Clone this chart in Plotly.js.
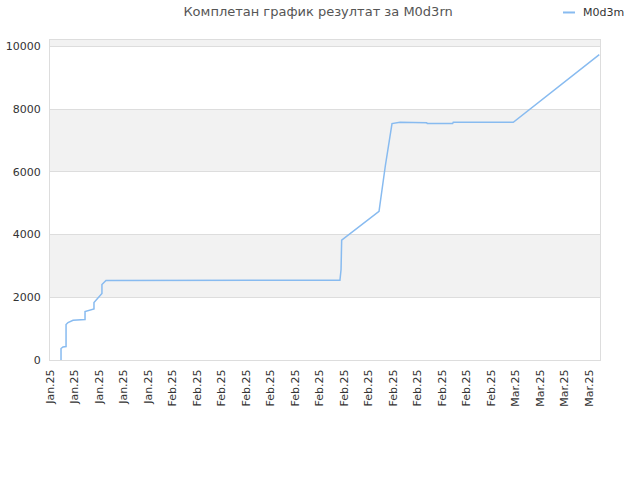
<!DOCTYPE html>
<html>
<head>
<meta charset="utf-8">
<script src="https://cdn.plot.ly/plotly-3.0.1.min.js"></script>
<style>
  html, body { margin: 0; padding: 0; background: #fff; }
  #chart { width: 640px; height: 480px; }
</style>
</head>
<body>
<div id="chart"></div>
<script>
// day offsets (2 days per tick) and cumulative score
const resultDays = [0.90, 0.90, 1.06, 1.31, 1.31, 1.47, 1.88, 2.86, 2.86, 3.35, 3.59, 3.59,
  3.92, 4.24, 4.24, 4.57, 23.67, 23.76, 23.81, 26.86, 27.37, 27.92, 28.57, 30.75, 30.80,
  32.87, 32.92, 37.82, 44.84];
const resultScores = [0, 367, 415, 431, 1132, 1196, 1270, 1292, 1547, 1595, 1627, 1834,
  1994, 2121, 2408, 2536, 2545, 2887, 3821, 4746, 6182, 7544, 7585, 7570, 7545,
  7545, 7585, 7585, 9745];

const tickDays = [0, 2, 4, 6, 8, 10, 12, 14, 16, 18, 20, 22, 24, 26, 28, 30, 32, 34, 36, 38, 40, 42, 44];
const tickLabels = [
  "Jan.25", "Jan.25", "Jan.25", "Jan.25", "Jan.25",
  "Feb.25", "Feb.25", "Feb.25", "Feb.25", "Feb.25", "Feb.25", "Feb.25",
  "Feb.25", "Feb.25", "Feb.25", "Feb.25", "Feb.25", "Feb.25", "Feb.25",
  "Mar.25", "Mar.25", "Mar.25", "Mar.25"
];
const yTicks = [0, 2000, 4000, 6000, 8000, 10000];
const yLabels = ["0", "2000", "4000", "6000", "8000", "10000"];
const playerName = "M0d3m";

const FONT = "DejaVu Sans, Verdana, sans-serif";
const LINE = "#88bbf0";
const band = (y0, y1) => ({
  type: "rect", xref: "paper", yref: "y", x0: 0, x1: 1, y0: y0, y1: y1,
  fillcolor: "#f2f2f2", line: { width: 0 }, layer: "below",
});

Plotly.newPlot("chart", [{
  type: "scatter", mode: "lines", name: playerName,
  x: resultDays, y: resultScores,
  line: { color: LINE, width: 1.5 },
  hovertemplate: "%{y:,.0f}<extra></extra>",
}], {
  width: 640, height: 480,
  paper_bgcolor: "#fff", plot_bgcolor: "#fff",
  margin: { l: 50, r: 40, t: 40, b: 120, autoexpand: false },
  font: { family: FONT, size: 11, color: "#333" },
  title: {
    text: "Комплетан график резултат за M0d3rn",
    x: 0.497, xanchor: "center", y: 0.985, yanchor: "top",
    font: { family: FONT, size: 13, color: "#555" },
  },
  showlegend: false,
  xaxis: {
    range: [0, 44.9], tickvals: tickDays, ticktext: tickLabels,
    tickangle: -90, showgrid: false, zeroline: false,
    ticks: "outside", ticklen: 4, tickcolor: "rgba(0,0,0,0)",
    showline: true, linecolor: "#ddd", mirror: true,
    tickfont: { size: 11, color: "#333" },
  },
  yaxis: {
    range: [0, 10210], tickvals: yTicks, ticktext: yLabels,
    showgrid: true, gridcolor: "#ddd", zeroline: false,
    ticks: "outside", ticklen: 6, tickcolor: "rgba(0,0,0,0)",
    showline: true, linecolor: "#ddd", mirror: true,
    tickfont: { size: 11, color: "#333" },
  },
  shapes: [
    band(2000, 4000), band(6000, 8000), band(10000, 10210),
    // legend swatch
    { type: "line", xref: "paper", yref: "paper", x0: 0.9327, x1: 0.9545, y0: 1.086, y1: 1.086,
      line: { color: LINE, width: 2 } },
  ],
  annotations: [{
    text: playerName, xref: "paper", yref: "paper", x: 0.965, y: 1.086,
    xanchor: "left", yanchor: "middle", showarrow: false,
    font: { size: 11, color: "#333" },
  }],
}, { displayModeBar: false, staticPlot: true });
</script>
</body>
</html>
